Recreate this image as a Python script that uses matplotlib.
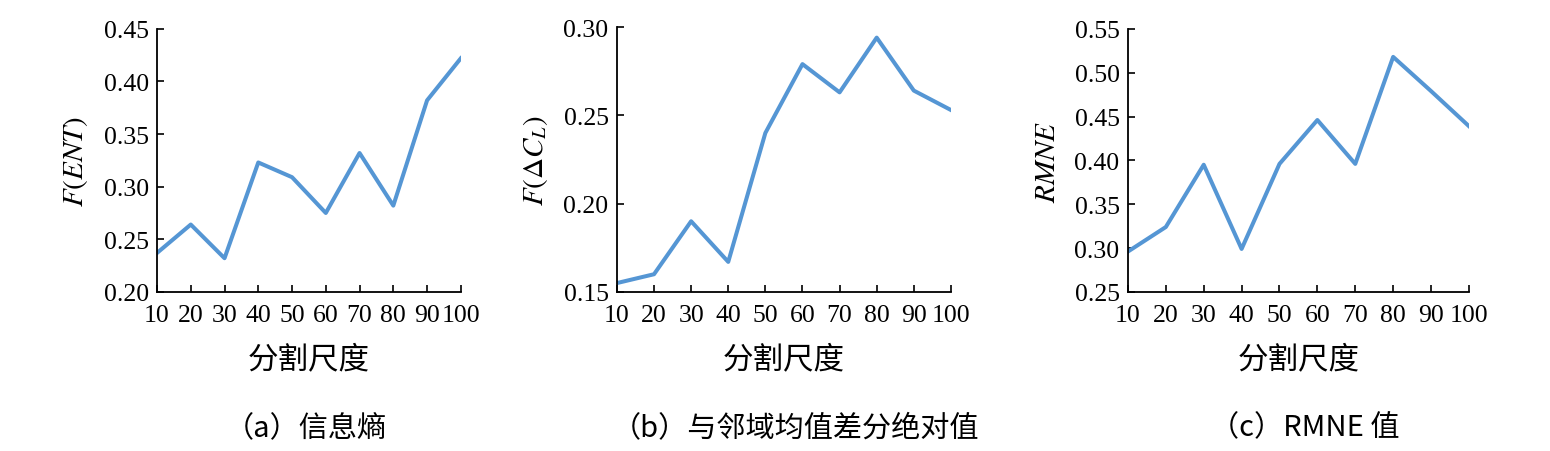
import numpy as np
import matplotlib
matplotlib.use("Agg")
import matplotlib.pyplot as plt

plt.rcParams['font.family'] = ['Liberation Serif', 'Noto Sans CJK SC', 'DejaVu Sans']
plt.rcParams['mathtext.fontset'] = 'stix'

## data
scales = [10, 20, 30, 40, 50, 60, 70, 80, 90, 100]
ent = [0.237, 0.264, 0.232, 0.323, 0.309, 0.275, 0.332, 0.282, 0.382, 0.422]
delta_cl = [0.155, 0.160, 0.190, 0.167, 0.240, 0.279, 0.263, 0.294, 0.264, 0.253]
rmne = [0.296, 0.324, 0.395, 0.299, 0.396, 0.446, 0.396, 0.518, 0.479, 0.439]

ylabels = [r'$F(ENT)$', r'$F(\mathit{\Delta} C_L)$', r'$RMNE$']
yticks = [
    [0.20, 0.25, 0.30, 0.35, 0.40, 0.45],
    [0.15, 0.20, 0.25, 0.30],
    [0.25, 0.30, 0.35, 0.40, 0.45, 0.50, 0.55],
]
captions = ['（a）信息熵', '（b）与邻域均值差分绝对值', '（c）RMNE 值']
xlabel = '分割尺度'

line_color = '#5596d4'
cjk = ['Noto Sans CJK SC', 'Liberation Serif']

fig = plt.figure(figsize=(15.5, 4.52), dpi=100)

# axes boxes in figure fraction
boxes = [
    [0.1013, 0.352, 0.196, 0.582],
    [0.398, 0.352, 0.2155, 0.586],
    [0.7277, 0.352, 0.220, 0.582],
]
cap_x = [306, 795, 1305]

for i, series in enumerate([ent, delta_cl, rmne]):
    ax = fig.add_axes(boxes[i])
    ax.plot(scales, series, color=line_color, linewidth=2.9, solid_joinstyle='round')
    ax.set_xlim(10, 100)
    ax.set_ylim(yticks[i][0], yticks[i][-1])
    ax.set_xticks(scales)
    ax.set_yticks(yticks[i])
    ax.set_yticklabels([f'{v:.2f}' for v in yticks[i]])
    ax.spines['top'].set_visible(False)
    ax.spines['right'].set_visible(False)
    ax.spines['left'].set_linewidth(1.3)
    ax.spines['bottom'].set_linewidth(1.3)
    ax.tick_params(direction='in', length=5, width=1.2, labelsize=18.5)
    ax.tick_params(axis='x', pad=9)
    ax.tick_params(axis='y', pad=6)
    ax.set_ylabel(ylabels[i], fontsize=21, labelpad=10)
    ax.set_xlabel(xlabel, fontsize=22, family=cjk, labelpad=12)

    fig.text(cap_x[i] / 1550, 1 - 428 / 452, captions[i], ha='center', va='center',
             fontsize=21, family=cjk)

plt.savefig('out.png', dpi=100)
